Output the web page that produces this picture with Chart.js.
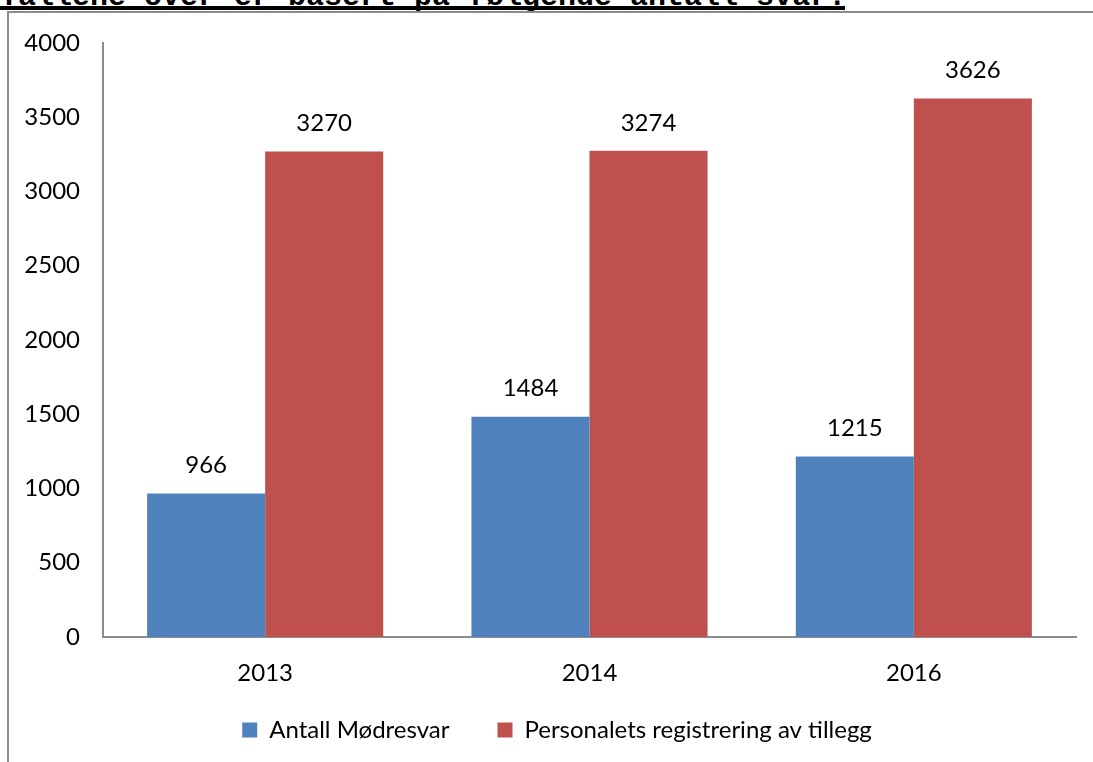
<!DOCTYPE html>
<html>
<head>
<meta charset="utf-8">
<script src="https://cdn.jsdelivr.net/npm/chart.js@4"></script>
<style>
  html, body { margin: 0; padding: 0; background: #fff; overflow: hidden; }
  #page { position: relative; width: 1093px; height: 762px; }
  #heading {
    position: absolute; left: 0; top: -18px; white-space: nowrap;
    font-family: "Liberation Mono", monospace; font-weight: bold;
    font-size: 30px; line-height: 30px; color: #000;
  }
  #underline { position: absolute; left: 0; top: 6px; width: 845px; height: 4px; background: #000; }
  #frame {
    position: absolute; left: 7px; top: 11px; width: 1100px; height: 760px;
    border-left: 2px solid #8c8c8c; border-top: 2px solid #8c8c8c;
  }
  #wrap { position: absolute; left: 0; top: 0; width: 1093px; height: 762px; }
</style>
</head>
<body>
<div id="page">
  <div id="heading">Tallene over er basert på følgende antall svar:</div>
  <div id="underline"></div>
  <div id="frame"></div>
  <div id="wrap"><canvas id="chart"></canvas></div>
</div>
<script>
const years = ['2013', '2014', '2016'];
const mothers = [966, 1484, 1215];          // Antall Mødresvar
const staff = [3270, 3274, 3626];           // Personalets registrering av tillegg
const yTicks = [0, 500, 1000, 1500, 2000, 2500, 3000, 3500, 4000];

const FONT = 'Lato';

// Values printed above each bar
const valueLabels = {
    id: 'valueLabels',
    afterLayout(chart) {
        // legend sits a little right of the plot centre and higher in the original
        const lg = chart.legend;
        lg.left += 15;
        lg.right += 15;
        lg.top -= 20;
        lg.bottom = chart.height;
    },
    afterDatasetsDraw(chart) {
        const ctx = chart.ctx;
        ctx.save();
        ctx.font = '24px ' + FONT;
        ctx.fillStyle = '#000';
        ctx.textAlign = 'center';
        ctx.textBaseline = 'middle';
        chart.data.datasets.forEach((ds, i) => {
            chart.getDatasetMeta(i).data.forEach((bar, j) => {
                ctx.fillText(ds.data[j], bar.x, bar.y - 28);
            });
        });
        ctx.restore();
    }
};

new Chart(document.getElementById('chart'), {
    type: 'bar',
    data: {
        labels: years,
        datasets: [{
            label: 'Antall Mødresvar',
            data: mothers,
            backgroundColor: '#4f81bd'
        }, {
            label: 'Personalets registrering av tillegg',
            data: staff,
            backgroundColor: '#c0504d'
        }]
    },
    options: {
        responsive: true,
        maintainAspectRatio: false,
        animation: false,
        layout: { padding: { left: 8, top: 43, right: 17, bottom: 14 } },
        datasets: { bar: { barPercentage: 1, categoryPercentage: 0.728 } },
        plugins: {
            tooltip: { enabled: false },
            legend: {
                position: 'bottom',
                maxHeight: 58,
                labels: {
                    font: { family: FONT, size: 24 },
                    color: '#000',
                    boxWidth: 15,
                    boxHeight: 15,
                    padding: 48
                }
            }
        },
        scales: {
            x: {
                afterFit(scale) { scale.height = 53; },
                grid: { display: false, drawTicks: false },
                border: { color: '#8c8c8c', width: 2 },
                ticks: { font: { family: FONT, size: 24 }, color: '#000', padding: 22 }
            },
            y: {
                min: 0, max: 4000,
                afterBuildTicks(scale) { scale.ticks = yTicks.map(v => ({ value: v })); },
                afterFit(scale) { scale.width = 95; },
                grid: { display: false, drawTicks: false },
                border: { color: '#8c8c8c', width: 2 },
                ticks: {
                    font: { family: FONT, size: 24 }, color: '#000', padding: 23,
                    callback: v => String(v)
                }
            }
        }
    },
    plugins: [valueLabels]
});
</script>
</body>
</html>
